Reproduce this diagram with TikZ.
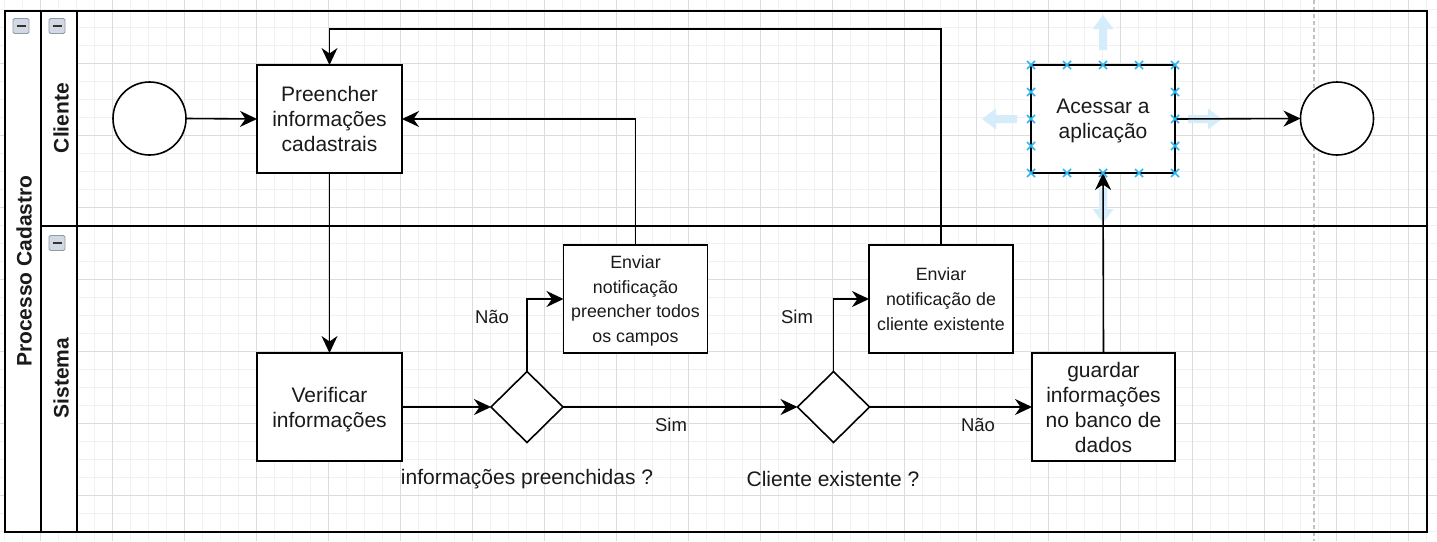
\documentclass[tikz,border=0pt]{standalone}
\usepackage{fontspec}
\setmainfont{Liberation Sans}
\usetikzlibrary{arrows.meta,shapes.geometric}
\definecolor{gridminor}{HTML}{F1F1F1}
\definecolor{gridmajor}{HTML}{DCDCDC}
\definecolor{txt}{HTML}{1A1A1A}
\definecolor{selblue}{HTML}{29B6F2}
\definecolor{hintblue}{HTML}{D5EDFA}
\definecolor{iconfill}{HTML}{D2D9E2}
\definecolor{iconedge}{HTML}{8E9BAA}
\definecolor{pagebreak}{HTML}{C2C2C2}
\begin{document}
\begin{tikzpicture}[x=1pt,y=-1pt,
  every node/.style={text=txt},
  proc/.style={draw=black, fill=white, line width=1.6pt, minimum width=145pt, minimum height=108pt,
    inner sep=0pt, outer sep=0pt, align=center, text depth=0pt, font=\fontsize{21}{25}\selectfont},
  smallproc/.style={proc, minimum width=144pt, font=\fontsize{17.8}{24.6}\selectfont},
  event/.style={circle, draw=black, fill=white, line width=1.6pt, minimum size=73pt, inner sep=0pt, outer sep=0pt},
  gate/.style={diamond, draw=black, fill=white, line width=1.6pt, minimum width=72pt, minimum height=71pt,
    inner sep=0pt, outer sep=0pt},
  flow/.style={draw=black, line width=1.6pt, -{Stealth[length=17pt,width=16pt,inset=5.5pt]}},
  wire/.style={draw=black, line width=1.6pt},
  elabel/.style={font=\fontsize{18.5}{22}\selectfont, inner sep=0pt},
  qlabel/.style={font=\fontsize{21}{25}\selectfont, inner sep=0pt},
  lanetitle/.style={font=\bfseries\fontsize{21}{25}\selectfont, rotate=90, inner sep=0pt},
  minorgrid/.style={draw=gridminor, line width=0.9pt},
  majorgrid/.style={draw=gridmajor, line width=0.9pt},
  hint/.style={fill=hintblue, draw=none},
  handle/.style={draw=selblue, line width=1.6pt},
  icon/.style={fill=iconfill, draw=iconedge, line width=0.8pt, rounded corners=1.5pt},
  iconbar/.style={draw=black!80, line width=1.6pt}
]
\useasboundingbox (0,0) rectangle (1437,541);
\fill[white] (0,0) rectangle (1437,541);
% grid
\foreach \gx in {4,22,...,1436} { \draw[minorgrid] (\gx,0) -- (\gx,541); }
\foreach \gy in {9,27,...,541} { \draw[minorgrid] (0,\gy) -- (1437,\gy); }
\foreach \gx in {40,112,...,1436} { \draw[majorgrid] (\gx,0) -- (\gx,541); }
\foreach \gy in {63,135,...,541} { \draw[majorgrid] (0,\gy) -- (1437,\gy); }
% page break line
\draw[pagebreak, line width=1.5pt, dash pattern=on 4pt off 3pt] (1314,0) -- (1314,541);
% pool and lanes
\fill[white] (5,11) rectangle (77,532);
\draw[wire] (5,11) rectangle (1427,532);
\draw[wire] (41,11) -- (41,532);
\draw[wire] (77,11) -- (77,532);
\draw[wire] (41,226) -- (1427,226);
\foreach \p in {(21,26),(57,26),(57,243)} {
  \draw[icon] \p ++(-8,-7.5) rectangle ++(16,15);
  \draw[iconbar] \p ++(-4.5,0) -- ++(9,0);
}
\node[lanetitle] (pool) at (24,271) {Processo Cadastro};
\node[lanetitle] (lane1) at (61,118) {Cliente};
\node[lanetitle] (lane2) at (61,378) {Sistema};
% selection hints (behind connectors)
\fill[hint] (1099,50) -- (1099,29) -- (1092.5,29) -- (1103,15) -- (1113.5,29) -- (1107,29) -- (1107,50) -- cycle;
\fill[hint] (1099,188) -- (1099,209) -- (1092.5,209) -- (1103,223) -- (1113.5,209) -- (1107,209) -- (1107,188) -- cycle;
\fill[hint] (1017,115) -- (996,115) -- (996,108.5) -- (982,119) -- (996,129.5) -- (996,123) -- (1017,123) -- cycle;
\fill[hint] (1188,115) -- (1208,115) -- (1208,108.5) -- (1222,119) -- (1208,129.5) -- (1208,123) -- (1188,123) -- cycle;
% nodes
\node[event] (start) at (149.5,118.5) {};
\node[proc] (pre) at (329.5,119) {Preencher\\informações\\cadastrais};
\node[proc] (ver) at (329.5,407) {Verificar\\informações};
\node[gate] (d1) at (527,407) {};
\node[smallproc] (n1) at (635.5,299) {Enviar\\notificação\\preencher todos\\os campos};
\node[gate] (d2) at (833.5,407) {};
\node[smallproc] (n2) at (941,299) {Enviar\\notificação de\\cliente existente};
\node[proc, minimum width=143pt] (bd) at (1103.5,407) {guardar\\informações\\no banco de\\dados};
\node[proc, minimum width=144pt] (acc) at (1103,119) {Acessar a\\aplicação};
\node[event] (end) at (1337,118.5) {};
% labels
\node[elabel] (l1) at (492,317) {Não};
\node[elabel] (l2) at (671,425) {Sim};
\node[elabel] (l3) at (797,317) {Sim};
\node[elabel] (l4) at (978,425) {Não};
\node[qlabel] (q1) at (527,479) {informações preenchidas ?};
\node[qlabel] (q2) at (833,479) {Cliente existente ?};
% connectors
\coordinate (loop) at (941,29);
\draw[flow] (start.east) -- (pre.west);
\draw[flow] (pre.south) -- (ver.north);
\draw[flow] (ver.east) -- (d1.west);
\draw[flow] (d1.north) |- (n1.west);
\draw[flow] (d1.east) -- (d2.west);
\draw[flow] (n1.north) |- (pre.east);
\draw[flow] (d2.north) |- (n2.west);
\draw[flow] (d2.east) -- (bd.west);
\draw[flow] (n2.north) -- (loop) -| (pre.north);
\draw[flow] (bd.north) -- (acc.south);
\draw[flow] (acc.east) -- (end.west);
% selection handles
\foreach \hx in {1031,1067,1103,1139,1175} {
  \foreach \hy in {65,173} {
    \draw[handle] ({\hx-4},{\hy-4}) -- ({\hx+4},{\hy+4}) ({\hx-4},{\hy+4}) -- ({\hx+4},{\hy-4});
  }
}
\foreach \hy in {92,119,146} {
  \foreach \hx in {1031,1175} {
    \draw[handle] ({\hx-4},{\hy-4}) -- ({\hx+4},{\hy+4}) ({\hx-4},{\hy+4}) -- ({\hx+4},{\hy-4});
  }
}
\end{tikzpicture}
\end{document}
